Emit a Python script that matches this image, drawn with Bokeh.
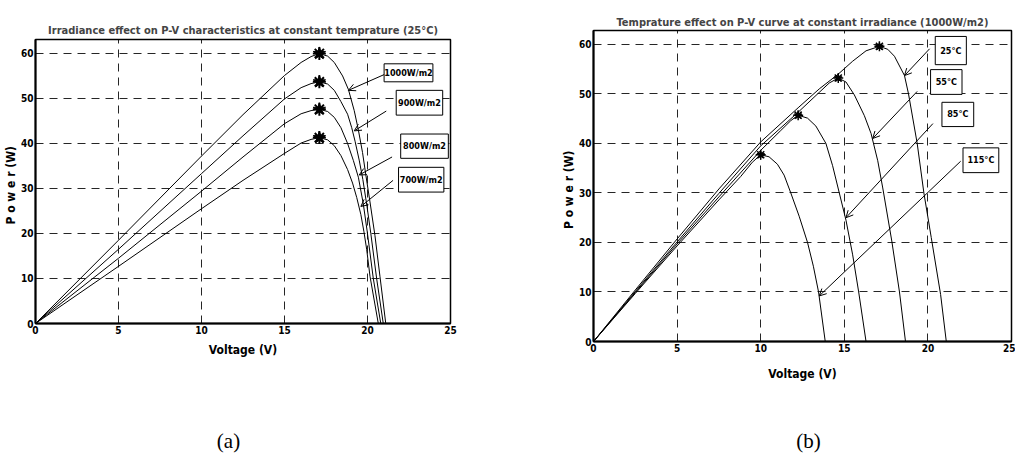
from bokeh.plotting import figure
from bokeh.layouts import row, column
from bokeh.models import Range1d, FixedTicker, Arrow, OpenHead
from bokeh.core.properties import value
from bokeh.embed import file_html
from bokeh.resources import INLINE

FONT = "DejaVu Sans Condensed, Liberation Sans"

# ---------------- data: (a) irradiance effect ----------------
v_1000 = [0, 5, 10, 12.5, 15, 16, 16.6, 17.1, 17.6, 18.0, 18.5, 18.85, 19.2, 19.45, 19.7, 19.9, 20.15, 20.45, 20.75, 21.1]
p_1000 = [0, 18.5, 37.2, 46.4, 55.1, 58.0, 59.3, 60.0, 59.4, 58.0, 55.0, 52.0, 47.3, 43.0, 38.0, 33.0, 27.0, 19.5, 10.5, 0]
v_900 = [0, 5, 10, 12.5, 15, 16, 16.6, 17.1, 17.6, 18.0, 18.4, 18.8, 19.05, 19.25, 19.5, 19.72, 19.97, 20.2, 20.55, 20.95]
p_900 = [0, 16.5, 33.3, 41.7, 49.9, 52.4, 53.3, 53.7, 53.2, 51.8, 49.3, 46.5, 43.5, 40.5, 36.3, 32.0, 26.0, 20.0, 10.0, 0]
v_800 = [0, 5, 10, 12.5, 15, 16, 16.6, 17.1, 17.6, 18.0, 18.4, 18.8, 19.15, 19.45, 19.75, 19.98, 20.35, 20.8]
p_800 = [0, 14.5, 29.4, 37.0, 44.4, 46.6, 47.3, 47.6, 47.1, 45.8, 43.5, 40.0, 36.2, 32.5, 26.5, 20.5, 10.0, 0]
v_700 = [0, 5, 10, 12.5, 15, 16, 16.6, 17.1, 17.6, 18.0, 18.4, 18.8, 19.1, 19.35, 19.6, 19.78, 19.95, 20.15, 20.65]
p_700 = [0, 12.7, 25.5, 31.8, 37.8, 40.1, 40.9, 41.3, 40.8, 39.5, 37.3, 34.2, 31.2, 28.0, 24.2, 20.5, 16.5, 10.5, 0]
mpp_v_irr = [17.1, 17.1, 17.1, 17.1]
mpp_p_irr = [60.0, 53.7, 47.6, 41.3]
labels_irr = ["1000W/m2", "900W/m2", "800W/m2", "700W/m2"]

# ---------------- data: (b) temperature effect ----------------
v_25 = [0, 2.5, 5, 7.5, 10, 12.24, 13.5, 14.64, 15.5, 16.3, 17.1, 17.6, 18.0, 18.6, 18.84, 19.36, 19.76, 20.2, 20.76, 21.1]
p_25 = [0, 10.4, 20.7, 30.8, 40.3, 47.2, 51.0, 54.0, 56.6, 58.7, 59.6, 59.0, 57.6, 53.7, 50.0, 40.0, 30.0, 21.0, 9.5, 0]
v_55 = [0, 2.5, 5, 7.5, 10, 12.24, 13.5, 14.1, 14.64, 15.1, 15.6, 16.2, 16.6, 17.0, 17.3, 17.84, 18.3, 18.66]
p_55 = [0, 10.1, 20.1, 29.9, 39.5, 46.3, 50.3, 52.2, 53.2, 52.4, 49.8, 45.6, 42.0, 36.5, 31.0, 20.3, 10.0, 0]
v_85 = [0, 2.5, 5, 7.5, 10, 11.2, 11.8, 12.24, 12.8, 13.3, 13.9, 14.3, 14.7, 15.1, 15.5, 15.86, 16.3]
p_85 = [0, 9.9, 19.7, 29.2, 38.6, 42.6, 44.6, 45.7, 45.1, 43.5, 40.0, 35.5, 30.0, 24.5, 17.5, 10.0, 0]
v_115 = [0, 2.5, 5, 7.5, 8.8, 9.5, 10, 10.5, 11.0, 11.4, 11.8, 12.3, 12.8, 13.15, 13.46, 13.86]
p_115 = [0, 9.7, 19.3, 28.6, 33.3, 36.2, 37.7, 37.3, 35.8, 33.6, 30.0, 25.3, 20.0, 15.2, 10.0, 0]
mpp_v_temp = [17.1, 14.64, 12.24, 10.0]
mpp_p_temp = [59.6, 53.2, 45.7, 37.7]
labels_temp = ["25°C", "55°C", "85°C", "115°C"]

x_ticks = [0, 5, 10, 15, 20, 25]
y_ticks = [0, 10, 20, 30, 40, 50, 60]
captions = ["(a)", "(b)"]


def make_fig(title, width, height, bl, br, bt, bb, ytop, title_standoff, xlabel_standoff):
    p = figure(width=width, height=height, output_backend="svg", toolbar_location=None,
               x_range=Range1d(0, 25), y_range=Range1d(0, ytop),
               min_border_left=bl, min_border_right=br, min_border_top=bt, min_border_bottom=bb,
               title=title)
    p.title.text_font = FONT
    p.title.text_font_style = "bold"
    p.title.text_font_size = "11px"
    p.title.align = "center"
    p.title.standoff = title_standoff
    p.outline_line_color = "black"
    p.outline_line_width = 1.5
    p.outline_line_alpha = 1
    p.background_fill_color = "white"
    p.border_fill_color = "white"
    for ax in (p.xaxis, p.yaxis):
        ax.axis_line_width = 2
        ax.axis_line_color = "black"
        ax.major_tick_out = 0
        ax.major_tick_in = 0
        ax.minor_tick_out = 0
        ax.minor_tick_in = 0
        ax.major_label_text_font = FONT
        ax.major_label_text_font_style = "bold"
        ax.major_label_text_font_size = "10px"
        ax.major_label_text_color = "black"
        ax.major_label_standoff = 2
        ax.axis_label_text_font = FONT
        ax.axis_label_text_font_style = "bold"
        ax.axis_label_text_color = "black"
    p.xaxis.ticker = FixedTicker(ticks=x_ticks)
    p.yaxis.ticker = FixedTicker(ticks=y_ticks)
    p.xaxis.axis_label = "Voltage (V)"
    p.xaxis.axis_label_text_font_size = "12px"
    p.xaxis.axis_label_standoff = xlabel_standoff
    p.yaxis.axis_label = "P o w e r   (W)"
    p.yaxis.axis_label_text_font_size = "12px"
    p.yaxis.axis_label_standoff = 0
    for g in (p.xgrid, p.ygrid):
        g.grid_line_color = "black"
        g.grid_line_dash = "8 6"
        g.grid_line_width = 1
        g.grid_line_alpha = 0.85
    return p


def annotate(p, labels, boxes, arrows, fs):
    for lab, (l, r, b, t), (xs, ys, xe, ye) in zip(labels, boxes, arrows):
        p.add_layout(Arrow(end=OpenHead(size=7, line_width=1, line_color="black"),
                           x_start=xs, y_start=ys, x_end=xe, y_end=ye,
                           line_width=1, line_color="black"))
        p.quad(left=[l], right=[r], bottom=[b], top=[t], fill_color="white",
               line_color="black", line_width=1)
        p.text(x=[(l + r) / 2], y=[(b + t) / 2], text=[lab], text_align="center",
               text_baseline="middle", text_font=value(FONT), text_font_style="bold",
               text_font_size=fs, text_color="black")


# ---------- (a) ----------
pa = make_fig("Irradiance effect on P-V characteristics at constant temprature (25°C)",
              470, 410, 33, 20, 39, 87, 63.1, 6, 6)
for vv, pp in ((v_1000, p_1000), (v_900, p_900), (v_800, p_800), (v_700, p_700)):
    pa.line(vv, pp, line_color="black", line_width=1)
pa.scatter(mpp_v_irr, mpp_p_irr, marker="star", size=13, fill_color="black", line_color="black")
pa.scatter(mpp_v_irr, mpp_p_irr, marker="asterisk", size=13, line_color="black", line_width=2)
annotate(pa, labels_irr,
         [(21.0, 23.94, 53.7, 57.7), (21.73, 24.53, 46.3, 51.8),
          (22.0, 24.87, 36.7, 42.1), (21.87, 24.6, 29.2, 34.7)],
         [(21.0, 55.3, 18.85, 51.8), (21.13, 47.2, 19.2, 42.8),
          (21.48, 37.0, 19.5, 33.0), (21.54, 31.8, 19.6, 26.0)], "9px")

# ---------- (b) ----------
pb = make_fig("Temprature effect on P-V curve at constant irradiance (1000W/m2)",
              545, 410, 123, 4, 30, 69, 62.8, 3, 12)
for vv, pp in ((v_25, p_25), (v_55, p_55), (v_85, p_85), (v_115, p_115)):
    pb.line(vv, pp, line_color="black", line_width=1)
pb.scatter(mpp_v_temp, mpp_p_temp, marker="asterisk", size=10, line_color="black", line_width=1.5)
pb.scatter(mpp_v_temp, mpp_p_temp, marker="star", size=8, fill_color="black", line_color="black")
annotate(pb, labels_temp,
         [(20.44, 22.3, 55.9, 61.6), (20.16, 22.04, 49.9, 54.9),
          (20.84, 22.74, 43.4, 48.3), (22.1, 24.24, 34.1, 39.1)],
         [(20.1, 59.1, 18.6, 53.7), (19.36, 50.5, 16.7, 41.0),
          (20.3, 44.0, 15.1, 25.0), (21.96, 36.4, 13.5, 9.2)], "9px")

# ---------- captions strip ----------
pc = figure(width=1015, height=49, output_backend="svg", toolbar_location=None,
            x_range=Range1d(0, 1015), y_range=Range1d(0, 49),
            min_border_left=0, min_border_right=0, min_border_top=0, min_border_bottom=0)
pc.axis.visible = False
pc.grid.visible = False
pc.outline_line_color = None
pc.text(x=[228, 808], y=[19, 19], text=captions, text_align="center", text_baseline="middle",
        text_font=value("Liberation Serif"), text_font_size="21px", text_color="black")

layout = column(row(column(pa), column(pb), spacing=0), pc, spacing=0)
open("out.html", "w").write(file_html(layout, INLINE))
